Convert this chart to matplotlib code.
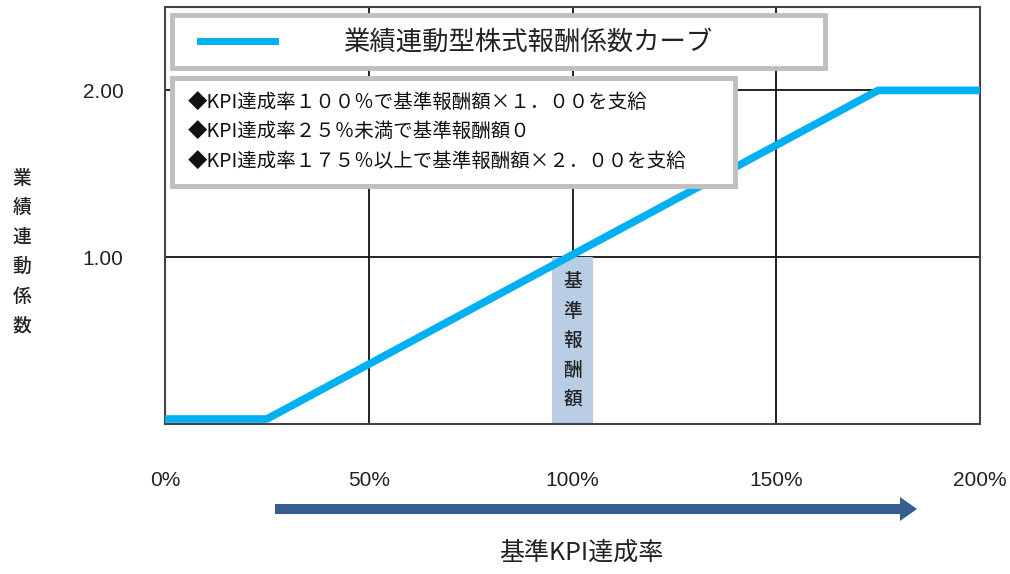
import matplotlib
matplotlib.use("Agg")
import matplotlib.pyplot as plt
from matplotlib.patches import Rectangle, FancyArrow

plt.rcParams['font.family'] = ['Noto Sans CJK JP', 'DejaVu Sans']

# data
kpi_rate = [0, 25, 175, 200]          # %
coef = [0.03, 0.03, 2.0, 2.0]
x_ticks = [0, 50, 100, 150, 200]
x_labels = ['0%', '50%', '100%', '150%', '200%']
y_ticks = [1.0, 2.0]
y_labels = ['1.00', '2.00']
legend_label = '業績連動型株式報酬係数カーブ'
notes = ['◆KPI達成率１００％で基準報酬額×１．００を支給',
         '◆KPI達成率２５％未満で基準報酬額０',
         '◆KPI達成率１７５％以上で基準報酬額×２．００を支給']

W, H = 1010, 574
fig = plt.figure(figsize=(W / 100, H / 100), dpi=100)
ax = fig.add_axes([165 / W, 1 - 424 / H, 815 / W, 417 / H])

ax.set_xlim(0, 200)
ax.set_ylim(0, 2.5)

# reference box at 100%
ax.add_patch(Rectangle((95, 0), 10, 1.0, facecolor='#b9cde5', edgecolor='none', zorder=1))
ax.text(100, 0.5, '基\n準\n報\n酬\n額', ha='center', va='center', fontsize=13.5,
        color='#222222', linespacing=1.7, fontweight='medium', zorder=2)

ax.plot(kpi_rate, coef, color='#00b0f0', lw=5.5, solid_capstyle='butt', zorder=3)

ax.set_xticks(x_ticks)
ax.set_xticklabels(x_labels, family='Liberation Sans')
ax.set_yticks(y_ticks)
ax.set_yticklabels(y_labels, family='Liberation Sans')
ax.tick_params(axis='x', length=0, pad=34, labelsize=15, labelcolor='#222222')
ax.tick_params(axis='y', length=0, pad=30, labelsize=15, labelcolor='#222222')
ax.grid(True, color='#111111', lw=1.3, zorder=0)
ax.set_axisbelow(True)
for s in ax.spines.values():
    s.set_color('#444444')
    s.set_linewidth(1.5)

# legend box
leg_box = Rectangle((172 / W, 1 - 68 / H), 653 / W, 53 / H, transform=fig.transFigure,
                    facecolor='white', edgecolor='#bfbfbf', lw=3.5, zorder=5)
fig.patches.append(leg_box)
fig.lines.append(plt.Line2D([200 / W, 275 / W], [1 - 41 / H, 1 - 41 / H],
                            transform=fig.transFigure, color='#00b0f0', lw=5, zorder=6))
fig.text(528 / W, 1 - 42 / H, legend_label, ha='center', va='center', fontsize=19,
         color='#222222', zorder=7)

# notes box
note_box = Rectangle((172 / W, 1 - 186 / H), 563 / W, 108 / H, transform=fig.transFigure,
                     facecolor='white', edgecolor='#bfbfbf', lw=3.5, zorder=5)
fig.patches.append(note_box)
for i, t in enumerate(notes):
    fig.text(188 / W, 1 - (102 + 29.5 * i) / H, t, ha='left', va='center', fontsize=14,
             color='#111111', zorder=7)

# y label stacked
fig.text(22 / W, 1 - 252 / H, '業\n績\n連\n動\n係\n数', ha='center', va='center',
         fontsize=13.5, color='#222222', linespacing=1.7, fontweight='medium')

# arrow
fig.patches.append(FancyArrow(275 / W, 1 - 509 / H, 625 / W, 0, width=10 / H,
                              head_width=24 / H, head_length=17 / W,
                              length_includes_head=False, transform=fig.transFigure,
                              facecolor='#355f91', edgecolor='none'))

fig.text(581 / W, 1 - 553 / H, '基準KPI達成率', ha='center', va='center', fontsize=18,
         color='#222222')

fig.savefig('out.png', dpi=100)
